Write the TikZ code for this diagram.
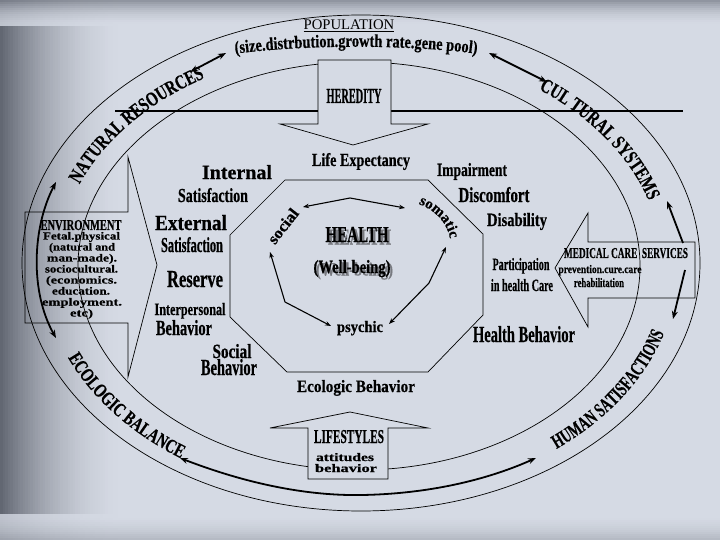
\documentclass[tikz,border=0pt]{standalone}
\usepackage{fontspec}
\usepackage{graphicx}
\setmainfont{Liberation Serif}
\newfontfamily\heavy[FakeBold=0.6]{Liberation Serif}
\newfontfamily\bandf[FakeStretch=0.74,FakeBold=0.5]{Liberation Serif}
\newfontfamily\bandg[FakeStretch=0.66,FakeBold=0.4]{Liberation Serif}
\newfontfamily\titf[FakeStretch=0.8,FakeBold=0.4]{Liberation Serif}
\usetikzlibrary{decorations.text,arrows.meta}
\definecolor{bg}{RGB}{213,218,228}
\definecolor{shadecol}{RGB}{98,103,114}
\definecolor{shadowgray}{RGB}{120,122,128}
\newcommand\fitbox[3]{\resizebox{#1pt}{#2pt}{\heavy\bfseries #3}}
\newcommand\shadowed[1]{\makebox[0pt][l]{\hspace{2.5pt}\raisebox{-2.5pt}{\color{shadowgray}#1}}#1}
\newcommand\fNat{\bandf\bfseries\fontsize{20}{20}\selectfont}
\newcommand\fCul{\bandf\bfseries\fontsize{20}{20}\selectfont}
\newcommand\fEco{\bandf\bfseries\fontsize{19.5}{20}\selectfont}
\newcommand\fHum{\bandg\bfseries\fontsize{20}{20}\selectfont}
\newcommand\fTitle{\titf\bfseries\fontsize{18}{18}\selectfont}
\newcommand\fSom{\heavy\bfseries\fontsize{15}{16}\selectfont}
\tikzset{
  btip/.tip={Stealth[length=8pt,width=6pt]},
  stp/.tip={Stealth[length=6pt,width=4.5pt]}}
\begin{document}
\begin{tikzpicture}[x=1pt,y=-1pt,
  lbl/.style={inner sep=0pt,anchor=base},
  thinline/.style={line width=0.7pt},
  bandarrow/.style={line width=1.8pt},
  octarrow/.style={line width=1.1pt}]
\useasboundingbox (0,0) rectangle (720,540);
% background
\fill[bg] (0,0) rectangle (720,540);
\foreach \i in {0,...,51}{
  \pgfmathtruncatemacro\p{100*(1-\i/52)^2}
  \fill[shadecol!\p!bg] (\i*2.5,0) rectangle (\i*2.5+2.6,540);
}
\foreach \i in {0,...,12}{
  \pgfmathtruncatemacro\p{75*(1-\i/13)^2}
  \fill[shadecol!\p!bg,opacity=0.8] (0,\i*2) rectangle (720,\i*2+2);
  \pgfmathtruncatemacro\q{35*(1-\i/13)^2}
  \fill[shadecol!\q!bg,opacity=0.8] (0,540-\i*2) rectangle (720,540-\i*2-2);
}
% ellipses
\draw[thinline] (361,263) ellipse [x radius=339, y radius=248];
\draw[thinline] (359,266) ellipse [x radius=281, y radius=204];
% horizontal line
\coordinate (hlA) at (115,111);
\coordinate (hlB) at (683,111);
\draw[line width=1.8pt] (hlA) -- (hlB);
% block arrows
\filldraw[thinline,fill=bg] (318,60) -- (391,60) -- (391,124) -- (428,124) -- (353,145) -- (280,124) -- (318,124) -- cycle;
\filldraw[thinline,fill=bg] (308,479) -- (308,428) -- (270,428) -- (350,412) -- (428,428) -- (388,428) -- (388,479) -- cycle;
\draw[thinline] (25,212) -- (128,212) -- (128,157) -- (157,265) -- (128,377) -- (128,323) -- (25,323) -- cycle;
\draw[thinline] (695,242) -- (588,242) -- (588,213) -- (555,268) -- (588,327) -- (588,298) -- (695,298) -- cycle;
% octagon
\draw[thinline] (285,180) -- (428,180) -- (483,234) -- (483,315) -- (428,372) -- (287,372) -- (230,317) -- (230,235) -- cycle;
% band texts
\path[decorate,decoration={text along path,text={|\fNat|NATURAL RESOURCES},text align=center}]
  ([shift={(360,265)}]189:302 and 218) arc[start angle=189,end angle=249,x radius=302,y radius=218];
\path[decorate,decoration={text along path,text={|\fCul|CUL TURAL SYSTEMS},text align=center}]
  ([shift={(360,265)}]296:302 and 218) arc[start angle=296,end angle=356,x radius=302,y radius=218];
\path[decorate,decoration={text along path,text={|\fEco|ECOLOGIC BALANCE},text align=center}]
  ([shift={(360,265)}]172:318 and 234) arc[start angle=172,end angle=112,x radius=318,y radius=234];
\path[decorate,decoration={text along path,text={|\fHum|HUMAN SATISFACTIONS},text align=center}]
  ([shift={(360,265)}]63:318 and 234) arc[start angle=63,end angle=3,x radius=318,y radius=234];
\path[decorate,decoration={text along path,text={|\fTitle|(size.distrbution.growth rate.gene pool)},text align=center}]
  (226,55) .. controls (300,44) and (412,44) .. (486,55);
\node[lbl,font=\fontsize{14.7}{16}\selectfont] (pop) at (349,30) {\underline{POPULATION}};
% band arrows
\coordinate (tlA) at (190,72);
\coordinate (tlB) at (226,53);
\draw[bandarrow,{btip}-{btip}] (tlA) -- (tlB);
\coordinate (trA) at (489,53);
\coordinate (trB) at (547,82);
\draw[bandarrow,{btip}-{btip}] (trA) -- (trB);
\coordinate (lA) at (56,182);
\coordinate (lB) at (56,338);
\draw[bandarrow,{btip}-{btip}] (lA) .. controls (32,228) and (30,292) .. (lB);
\coordinate (bA) at (180,458);
\coordinate (bM) at (362,495);
\coordinate (bB) at (536,458);
\draw[bandarrow,{btip}-{btip}] (bA) .. controls (250,485) and (310,496) .. (bM) .. controls (420,494) and (480,483) .. (bB);
\coordinate (mcA) at (683,243);
\coordinate (mcB) at (667,201);
\draw[bandarrow,-{btip}] (mcA) -- (mcB);
\coordinate (mcC) at (685,270);
\coordinate (mcD) at (673,319);
\draw[bandarrow,-{btip}] (mcC) -- (mcD);
% octagon arrows
\coordinate (oa1) at (303,207);
\coordinate (oa2) at (350,198);
\coordinate (oa3) at (405,208);
\draw[octarrow,{stp}-{stp}] (oa1) -- (oa2) -- (oa3);
\coordinate (ob1) at (270,252);
\coordinate (ob2) at (285,302);
\coordinate (ob3) at (331,326);
\draw[octarrow,{stp}-{stp}] (ob1) -- (ob2) -- (ob3);
\coordinate (oc1) at (389,324);
\coordinate (oc2) at (429,283);
\coordinate (oc3) at (446,247);
\draw[octarrow,{stp}-{stp}] (oc1) -- (oc2) -- (oc3);
% octagon inner texts
\node[lbl] (health) at (357,242) {\shadowed{\fitbox{63}{15}{HEALTH}}};
\node[lbl] (well) at (352,273) {\shadowed{\fitbox{77}{13}{(Well-being)}}};
\node[inner sep=0pt,rotate=52] (social) at (283,226) {\fitbox{40}{11}{social}};
\path[decorate,decoration={text along path,text={|\fSom|somatic},text align=center}]
  (402,199) .. controls (440,207) and (453,228) .. (451,256);
\node[lbl] (psychic) at (360,332) {\fitbox{46}{11}{psychic}};
% left labels
\node[lbl] (internal) at (237,179) {\fitbox{70}{14}{Internal}};
\node[lbl] (sat1) at (213,202) {\fitbox{70}{14}{Satisfaction}};
\node[lbl] (external) at (191,230) {\fitbox{72}{15}{External}};
\node[lbl] (sat2) at (192,252) {\fitbox{62}{15}{Satisfaction}};
\node[lbl] (reserve) at (195,287) {\fitbox{56}{16}{Reserve}};
\node[lbl] (interp) at (190,315) {\fitbox{71}{12}{Interpersonal}};
\node[lbl] (beh1) at (184,335) {\fitbox{56}{15}{Behavior}};
\node[lbl] (socl) at (232,358) {\fitbox{39}{14}{Social}};
\node[lbl] (beh2) at (229,375) {\fitbox{56}{16}{Behavior}};
\node[lbl] (life) at (361,166) {\fitbox{98}{13}{Life Expectancy}};
\node[lbl] (ecob) at (356,392) {\fitbox{118}{12}{Ecologic Behavior}};
% right labels
\node[lbl] (impair) at (472,176) {\fitbox{70}{13}{Impairment}};
\node[lbl] (discom) at (494,202) {\fitbox{71}{15}{Discomfort}};
\node[lbl] (disab) at (517,226) {\fitbox{60}{13}{Disability}};
\node[lbl] (partic) at (521,270) {\fitbox{57}{12}{Participation}};
\node[lbl] (inhc) at (522,291) {\fitbox{62}{12}{in health Care}};
\node[lbl] (hbeh) at (524,342) {\fitbox{102}{16}{Health Behavior}};
\node[lbl] (medc) at (626,258) {\fitbox{124}{10}{MEDICAL CARE\ \ SERVICES}};
\node[lbl] (prev) at (600,273) {\fitbox{83}{8}{prevention.cure.care}};
\node[lbl] (rehab) at (599,287) {\fitbox{50}{9}{rehabilitation}};
% heredity / lifestyles
\node[lbl] (hered) at (354,103) {\fitbox{55}{14}{HEREDITY}};
\node[lbl] (lifes) at (349,443) {\fitbox{70}{13}{LIFESTYLES}};
\node[lbl] (attit) at (345,461) {\fitbox{58}{8}{attitudes}};
\node[lbl] (behv) at (346,472) {\fitbox{62}{8}{behavior}};
% environment
\node[lbl] (env) at (81,230) {\fitbox{81}{10}{ENVIRONMENT}};
\node[lbl] (e1) at (81.5,239.5) {\fitbox{77}{7.5}{Fetal.physical}};
\node[lbl] (e2) at (82,250.5) {\fitbox{66}{7.5}{(natural and}};
\node[lbl] (e3) at (82,261.5) {\fitbox{70}{7.5}{man-made).}};
\node[lbl] (e4) at (81.5,272.5) {\fitbox{73}{7.5}{sociocultural.}};
\node[lbl] (e5) at (81.5,283.5) {\fitbox{71}{7.5}{(economics.}};
\node[lbl] (e6) at (81,294.5) {\fitbox{58}{7.5}{education.}};
\node[lbl] (e7) at (82,305.5) {\fitbox{80}{7.5}{employment.}};
\node[lbl] (e8) at (81.5,316.5) {\fitbox{23}{7.5}{etc)}};
\end{tikzpicture}
\end{document}
